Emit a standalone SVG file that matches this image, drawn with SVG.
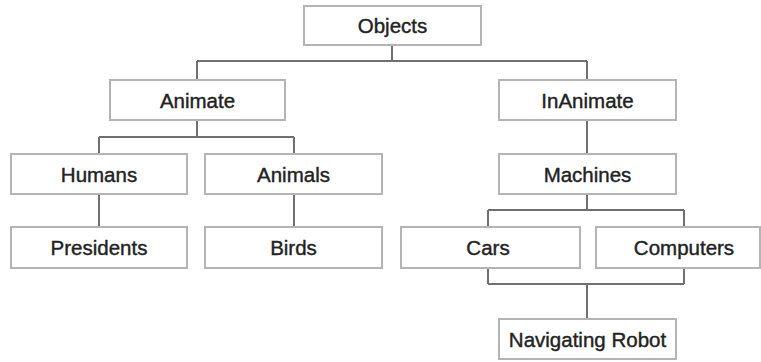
<svg xmlns="http://www.w3.org/2000/svg" width="761" height="362" viewBox="0 0 761 362">
<style>
.box{fill:#fff;stroke:#b4b4b4;stroke-width:2}
.lbl{font-family:"Liberation Sans",Arial,sans-serif;font-size:20.5px;fill:#222;stroke:#222;stroke-width:0.4;text-anchor:middle;dominant-baseline:central}
.con{fill:none;stroke:#707070;stroke-width:2}
</style>
<rect width="761" height="362" fill="#fff"/>
<g id="connectors">
<path class="con" d="M392,45V61M197,61H587M197,61V80M587,61V80"/>
<path class="con" d="M197,120V137M99,137H294M99,137V154M294,137V154"/>
<path class="con" d="M587,120V154"/>
<path class="con" d="M99,194V227M294,194V227"/>
<path class="con" d="M587,194V210M488,210H684M488,210V227M684,210V227"/>
<path class="con" d="M488,268V284M684,268V284M488,284H684M587,284V319"/>
</g>
<g id="objects"><rect class="box" x="304" y="6" width="177" height="39"/><text class="lbl" x="392.5" y="25.5">Objects</text></g>
<g id="animate"><rect class="box" x="110" y="80" width="175" height="40"/><text class="lbl" x="197.5" y="100">Animate</text></g>
<g id="inanimate"><rect class="box" x="499" y="80" width="177" height="40"/><text class="lbl" x="587.5" y="100">InAnimate</text></g>
<g id="humans"><rect class="box" x="11" y="154" width="176" height="40"/><text class="lbl" x="99" y="174">Humans</text></g>
<g id="animals"><rect class="box" x="205" y="154" width="177" height="40"/><text class="lbl" x="293.5" y="174">Animals</text></g>
<g id="machines"><rect class="box" x="499" y="154" width="177" height="40"/><text class="lbl" x="587.5" y="174">Machines</text></g>
<g id="presidents"><rect class="box" x="11" y="227" width="176" height="41"/><text class="lbl" x="99" y="247.5">Presidents</text></g>
<g id="birds"><rect class="box" x="205" y="227" width="177" height="41"/><text class="lbl" x="293.5" y="247.5">Birds</text></g>
<g id="cars"><rect class="box" x="401" y="227" width="179" height="41"/><text class="lbl" x="488" y="247.5">Cars</text></g>
<g id="computers"><rect class="box" x="596" y="227" width="164" height="41"/><text class="lbl" x="684" y="247.5">Computers</text></g>
<g id="robot"><rect class="box" x="499" y="319" width="177" height="40"/><text class="lbl" x="587.5" y="339">Navigating Robot</text></g>
</svg>
